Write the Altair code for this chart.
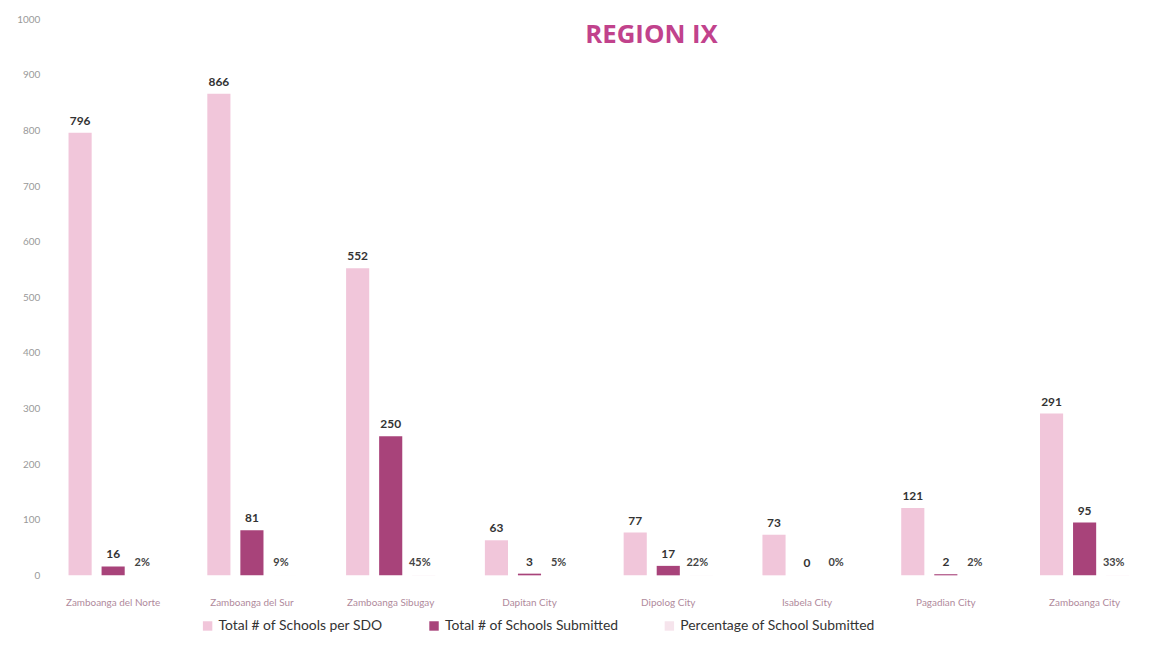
import altair as alt
import pandas as pd

divisions = ["Zamboanga del Norte", "Zamboanga del Sur", "Zamboanga Sibugay", "Dapitan City",
             "Dipolog City", "Isabela City", "Pagadian City", "Zamboanga City"]
total_schools = [796, 866, 552, 63, 77, 73, 121, 291]
submitted = [16, 81, 250, 3, 17, 0, 2, 95]
pct_submitted = [0.02, 0.09, 0.45, 0.05, 0.22, 0.00, 0.02, 0.33]

series_names = ["Total # of Schools per SDO", "Total # of Schools Submitted", "Percentage of School Submitted"]
series_colors = ["#f1c6da", "#a8437a", "#f6e4ec"]

rows = []
for i, d in enumerate(divisions):
    rows.append({"div": d, "series": series_names[0], "value": total_schools[i],
                 "label": str(total_schools[i]), "order": 0})
    rows.append({"div": d, "series": series_names[1], "value": submitted[i],
                 "label": str(submitted[i]), "order": 1})
    rows.append({"div": d, "series": series_names[2], "value": pct_submitted[i],
                 "label": f"{round(pct_submitted[i]*100)}%", "order": 2})
df = pd.DataFrame(rows)

x_enc = alt.X("div:N", sort=divisions, title=None,
              scale=alt.Scale(paddingInner=0.0, paddingOuter=0.0),
              axis=alt.Axis(labelAngle=0, domain=False, ticks=False, labelColor="#b08a9c",
                            labelFontSize=10, labelFont="Lato", labelPadding=22))
xoff = alt.XOffset("series:N", sort=series_names,
                   scale=alt.Scale(paddingInner=0.3, paddingOuter=0.75))
y_enc = alt.Y("value:Q", title=None, scale=alt.Scale(domain=[0, 1000]),
              axis=alt.Axis(values=list(range(0, 1001, 100)), format="d", grid=False, domain=False,
                            ticks=False, labelColor="#999999", labelFontSize=10, labelFont="Lato",
                            labelPadding=4))
color_enc = alt.Color("series:N", sort=series_names, title=None,
                      scale=alt.Scale(domain=series_names, range=series_colors),
                      legend=alt.Legend(orient="none", legendX=158, legendY=604, direction="horizontal",
                                        symbolType="square", symbolSize=90, labelFontSize=14,
                                        labelFont="Lato", labelColor="#333333", columnPadding=44,
                                        labelLimit=0, symbolStrokeWidth=0))

base = alt.Chart(df)

bars = base.mark_bar().encode(x=x_enc, xOffset=xoff, y=y_enc, color=color_enc)

value_labels = base.transform_filter(alt.datum.order < 2).mark_text(
    dy=-12, fontSize=12, fontWeight="bold", font="Lato", color="#333333"
).encode(x=alt.X("div:N", sort=divisions), xOffset=xoff, y="value:Q", text="label:N")

pct_labels = base.transform_filter(alt.datum.order == 2).mark_text(
    dy=-12, dx=-4, fontSize=11, font="Lato", fontWeight="bold", color="#444444"
).encode(x=alt.X("div:N", sort=divisions), xOffset=xoff, y="value:Q", text="label:N")

title = alt.Chart(pd.DataFrame({"t": ["REGION IX"]})).mark_text(
    fontSize=26, fontWeight="bold", font="Open Sans", color="#c1428c", baseline="alphabetic"
).encode(x=alt.value(612), y=alt.value(24), text="t:N")

chart = alt.layer(bars, value_labels, pct_labels, title).properties(
    width=1118, height=560,
    autosize=alt.AutoSizeParams(type="none"),
    padding={"left": 36, "top": 9, "right": 0, "bottom": 86},
).configure(background="white").configure_view(strokeWidth=0)

chart.save("out.html", embed_options={"renderer": "svg", "actions": False})
